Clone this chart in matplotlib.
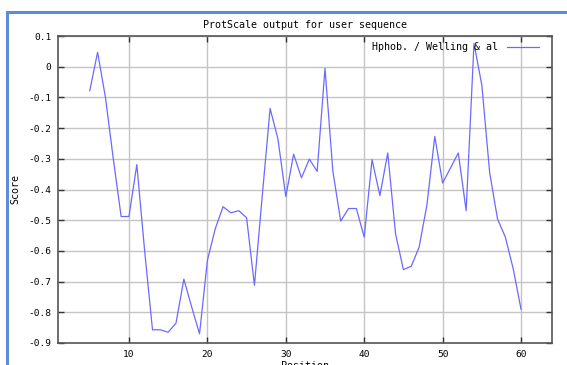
import matplotlib
matplotlib.use('Agg')
import matplotlib.pyplot as plt
from matplotlib.patches import Rectangle

# ProtScale hydrophobicity profile (window 9)
positions = list(range(5, 61))
scores = [-0.078, 0.047, -0.10, -0.30, -0.488, -0.488, -0.319, -0.60, -0.857, -0.857,
          -0.865, -0.835, -0.692, -0.783, -0.870, -0.631, -0.528, -0.456, -0.476, -0.469,
          -0.492, -0.712, -0.42, -0.136, -0.236, -0.423, -0.285, -0.362, -0.301, -0.341,
          -0.005, -0.34, -0.503, -0.462, -0.462, -0.555, -0.303, -0.420, -0.281, -0.545,
          -0.661, -0.650, -0.588, -0.45, -0.227, -0.379, -0.33, -0.281, -0.469, 0.076,
          -0.06, -0.345, -0.496, -0.555, -0.658, -0.790]
x_ticks = [10, 20, 30, 40, 50, 60]
y_ticks = [0.1, 0, -0.1, -0.2, -0.3, -0.4, -0.5, -0.6, -0.7, -0.8, -0.9]
y_labels = ['0.1', '0', '-0.1', '-0.2', '-0.3', '-0.4', '-0.5', '-0.6', '-0.7', '-0.8', '-0.9']

plt.rcParams['font.family'] = ['DejaVu Sans Mono']

fig = plt.figure(figsize=(5.67, 3.65), dpi=100)
fig.patch.set_facecolor('white')

# blue page frame round the picture
fig.patches.append(Rectangle((7 / 567, -0.1), 1.2, 1 - 12 / 365 + 0.1,
                             transform=fig.transFigure, fill=False,
                             edgecolor='#5b8ed6', linewidth=2.2))

ax = fig.add_axes([58.4 / 567, 1 - 343 / 365, (552.4 - 58.4) / 567, (343 - 36) / 365])
ax.plot(positions, scores, color='#6a6aff', linewidth=0.9, label='Hphob. / Welling & al')

ax.set_xlim(1, 64)
ax.set_ylim(-0.9, 0.1)
ax.set_xticks(x_ticks)
ax.set_yticks(y_ticks)
ax.set_yticklabels(y_labels)
ax.grid(True, color='#c4c4c4', linewidth=1.0)
ax.tick_params(direction='in', length=4, width=1, color='#333333', labelsize=6.8,
               top=True, right=True, labeltop=False, labelright=False, pad=5)
for s in ax.spines.values():
    s.set_color('#555555')
    s.set_linewidth(1.2)

ax.set_title('ProtScale output for user sequence', fontsize=7.2, pad=6)
ax.set_xlabel('Position', fontsize=7.2)
ax.xaxis.set_label_coords(0.5, -0.06)
ax.set_ylabel('Score', fontsize=7.2)
ax.yaxis.set_label_coords(-0.076, 0.5)

leg = ax.legend(loc='upper right', frameon=False, fontsize=7.2, handlelength=3.2,
                handletextpad=0.9, markerfirst=False, borderaxespad=0.2,
                bbox_to_anchor=(0.985, 1.0))

fig.savefig('out.png', dpi=100)
